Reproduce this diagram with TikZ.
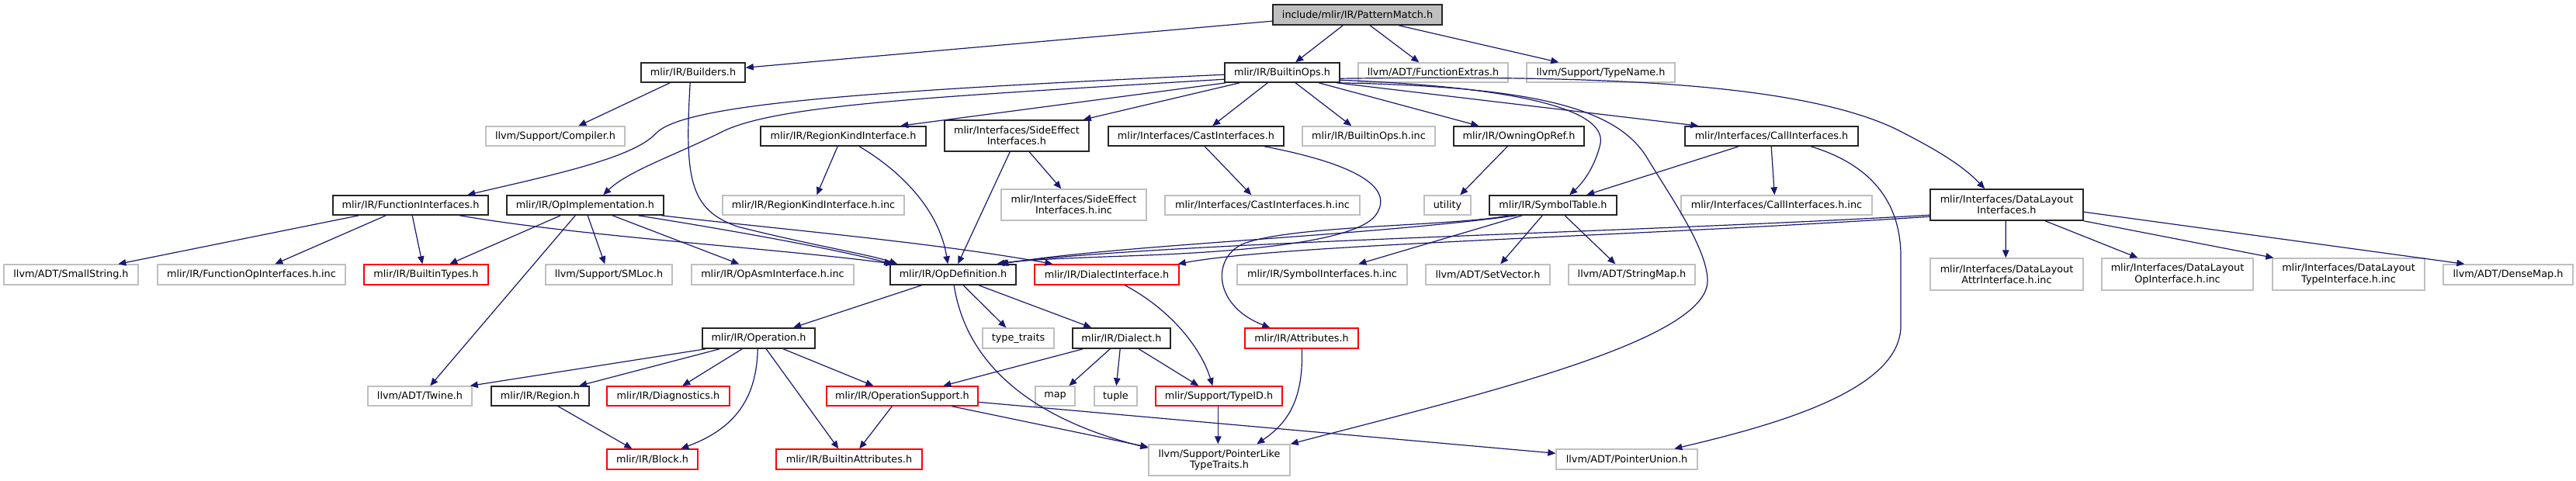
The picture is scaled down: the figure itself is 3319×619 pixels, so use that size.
\documentclass[tikz,border=0pt]{standalone}
\usepackage{fontspec}
\setmainfont{DejaVu Sans}
\usetikzlibrary{arrows.meta}
\definecolor{ecol}{HTML}{191970}
\definecolor{gcol}{HTML}{BFBFBF}
\definecolor{rcol}{HTML}{FF0000}
\definecolor{rootfill}{HTML}{BFBFBF}
\newcommand\fz{\fontsize{12.8}{14.3}\selectfont}
\newcommand\mkn[7]{\node[#1,minimum width=#5pt,minimum height=#6pt] (#2) at (#3,#4) {#7};}
\begin{document}
\begin{tikzpicture}[x=1pt,y=-1pt,
  nb/.style={draw=black!85, line width=1.6pt, fill=white, inner sep=0pt, font=\fz, align=center},
  ng/.style={nb, draw=gcol, line width=1.4pt},
  nr/.style={nb, draw=rcol, line width=1.4pt},
  nroot/.style={nb, fill=rootfill},
  e/.style={draw=ecol, line width=1.2pt, -{Triangle[length=10pt,width=8.5pt]}}]
\fill[white] (0,0) rectangle (3319,619);
\useasboundingbox (0,0) rectangle (3319,619);
% nodes
\mkn{nroot}{pm}{1749}{19}{218}{26}{include/mlir/IR/PatternMatch.h}
\mkn{nb}{builders}{893}{93.5}{134}{25}{mlir/IR/Builders.h}
\mkn{nb}{builtinops}{1652}{93.5}{148}{25}{mlir/IR/BuiltinOps.h}
\mkn{ng}{fextras}{1846.5}{93.5}{193}{25}{llvm/ADT/FunctionExtras.h}
\mkn{ng}{typename}{2062.5}{93.5}{191}{25}{llvm/Support/TypeName.h}
\mkn{ng}{compiler}{715.5}{175.5}{179}{25}{llvm/Support/Compiler.h}
\mkn{nb}{regionkind}{1086.5}{175.5}{213}{25}{mlir/IR/RegionKindInterface.h}
\mkn{nb}{sideeffect}{1310}{175}{186}{40}{mlir/Interfaces/SideEffect\\Interfaces.h}
\mkn{nb}{cast}{1541}{175.5}{226}{25}{mlir/Interfaces/CastInterfaces.h}
\mkn{ng}{builtinopsinc}{1763.5}{175.5}{171}{25}{mlir/IR/BuiltinOps.h.inc}
\mkn{nb}{owning}{1957}{175.5}{168}{25}{mlir/IR/OwningOpRef.h}
\mkn{nb}{call}{2282.5}{175.5}{223}{25}{mlir/Interfaces/CallInterfaces.h}
\mkn{nb}{funcif}{529}{264.5}{200}{25}{mlir/IR/FunctionInterfaces.h}
\mkn{nb}{opimpl}{754}{264.5}{202}{25}{mlir/IR/OpImplementation.h}
\mkn{ng}{regionkindinc}{1048}{264.5}{234}{25}{mlir/IR/RegionKindInterface.h.inc}
\mkn{ng}{sideeffectinc}{1383.5}{264}{187}{40}{mlir/Interfaces/SideEffect\\Interfaces.h.inc}
\mkn{ng}{castinc}{1626.5}{264.5}{251}{25}{mlir/Interfaces/CastInterfaces.h.inc}
\mkn{ng}{utility}{1865}{264.5}{60}{25}{utility}
\mkn{nb}{symtab}{2001}{264.5}{164}{25}{mlir/IR/SymbolTable.h}
\mkn{ng}{callinc}{2289}{264.5}{246}{25}{mlir/Interfaces/CallInterfaces.h.inc}
\mkn{nb}{dl}{2585.5}{264}{197}{40}{mlir/Interfaces/DataLayout\\Interfaces.h}
\mkn{ng}{smallstring}{91.5}{354}{173}{26}{llvm/ADT/SmallString.h}
\mkn{ng}{funcopinc}{324}{354}{242}{26}{mlir/IR/FunctionOpInterfaces.h.inc}
\mkn{nr}{builtintypes}{549}{354}{160}{26}{mlir/IR/BuiltinTypes.h}
\mkn{ng}{smloc}{784.5}{354}{163}{26}{llvm/Support/SMLoc.h}
\mkn{ng}{opasminc}{995.5}{354}{209}{26}{mlir/IR/OpAsmInterface.h.inc}
\mkn{nb}{opdef}{1228}{354}{162}{26}{mlir/IR/OpDefinition.h}
\mkn{nr}{dialectif}{1426}{354}{186}{26}{mlir/IR/DialectInterface.h}
\mkn{ng}{symifinc}{1703.5}{354}{219}{26}{mlir/IR/SymbolInterfaces.h.inc}
\mkn{ng}{setvector}{1917}{354}{160}{26}{llvm/ADT/SetVector.h}
\mkn{ng}{stringmap}{2102.5}{354}{163}{26}{llvm/ADT/StringMap.h}
\mkn{ng}{dlattr}{2585.5}{353.5}{197}{41}{mlir/Interfaces/DataLayout\\AttrInterface.h.inc}
\mkn{ng}{dlop}{2805.5}{353.5}{195}{41}{mlir/Interfaces/DataLayout\\OpInterface.h.inc}
\mkn{ng}{dltype}{3026}{353.5}{196}{41}{mlir/Interfaces/DataLayout\\TypeInterface.h.inc}
\mkn{ng}{densemap}{3231.5}{354}{167}{26}{llvm/ADT/DenseMap.h}
\mkn{nb}{operation}{977.5}{436}{145}{26}{mlir/IR/Operation.h}
\mkn{ng}{typetraits}{1312}{436}{92}{26}{type\_traits}
\mkn{nb}{dialect}{1445}{436}{126}{26}{mlir/IR/Dialect.h}
\mkn{nr}{attributes}{1677}{436}{146}{26}{mlir/IR/Attributes.h}
\mkn{ng}{twine}{541}{510.5}{134}{25}{llvm/ADT/Twine.h}
\mkn{nb}{region}{696}{510.5}{126}{25}{mlir/IR/Region.h}
\mkn{nr}{diagnostics}{861}{510.5}{158}{25}{mlir/IR/Diagnostics.h}
\mkn{nr}{opsupport}{1162.5}{510.5}{195}{25}{mlir/IR/OperationSupport.h}
\mkn{ng}{map}{1359.5}{510.5}{51}{25}{map}
\mkn{ng}{tuple}{1437.5}{510.5}{55}{25}{tuple}
\mkn{nr}{typeid}{1570.5}{510.5}{163}{25}{mlir/Support/TypeID.h}
\mkn{nr}{block}{840.5}{592}{117}{26}{mlir/IR/Block.h}
\mkn{nr}{builtinattrs}{1094}{592}{188}{26}{mlir/IR/BuiltinAttributes.h}
\mkn{ng}{ptrlike}{1571}{593}{182}{40}{llvm/Support/PointerLike\\TypeTraits.h}
\mkn{ng}{ptrunion}{2096}{592}{182}{26}{llvm/ADT/PointerUnion.h}
% edges: PatternMatch
\draw[e] ([yshift=-22pt]pm.north west) -- ([yshift=-7pt]builders.north east);
\draw[e] ([xshift=91pt]pm.south west) -- ([xshift=92pt]builtinops.north west);
\draw[e] ([xshift=126pt]pm.south west) -- ([xshift=79pt]fextras.north west);
\draw[e] ([xshift=163pt]pm.south west) -- ([xshift=42pt]typename.north west);
% Builders
\draw[e] ([xshift=38pt]builders.south west) -- ([xshift=120pt]compiler.north west);
\draw[e] ([xshift=64pt]builders.south west) .. controls (882,230) and (888,270) .. (950,292) .. controls (1040,315) and (1120,328) .. ([xshift=10pt]opdef.north west);
% BuiltinOps
\draw[e] ([yshift=-16pt]builtinops.north west) .. controls (1100,118) and (880,135) .. (845,172) .. controls (815,205) and (700,228) .. ([xshift=174pt]funcif.north west);
\draw[e] ([yshift=-22pt]builtinops.north west) .. controls (1200,125) and (1000,135) .. (930,170) .. controls (870,200) and (810,220) .. ([xshift=125pt]opimpl.north west);
\draw[e] ([xshift=2pt]builtinops.south west) -- ([xshift=181pt]regionkind.north west);
\draw[e] ([xshift=20pt]builtinops.south west) -- ([xshift=-8pt]sideeffect.north east);
\draw[e] ([xshift=56pt]builtinops.south west) -- ([xshift=135pt]cast.north west);
\draw[e] ([xshift=92pt]builtinops.south west) -- ([xshift=64pt]builtinopsinc.north west);
\draw[e] ([xshift=122pt]builtinops.south west) -- ([xshift=33pt]owning.north west);
\draw[e] ([xshift=145pt]builtinops.south west) -- ([xshift=18pt]call.north west);
\draw[e] ([yshift=-23pt]builtinops.north east) .. controls (1950,112) and (2070,140) .. (2062,185) .. controls (2055,215) and (2040,235) .. ([xshift=104pt]symtab.north west);
\draw[e] (builtinops.south east) .. controls (1980,112) and (2080,140) .. (2120,200) .. controls (2150,250) and (2200,320) .. (2200,362) .. controls (2200,440) and (1900,510) .. (ptrlike.north east);
\draw[e] ([yshift=-21pt]builtinops.north east) .. controls (2000,98) and (2300,100) .. (2440,165) .. controls (2500,195) and (2530,215) .. ([xshift=71pt]dl.north west);
% CallInterfaces
\draw[e] ([xshift=70pt]call.south west) -- ([xshift=126pt]symtab.north west);
\draw[e] ([xshift=112pt]call.south west) -- ([xshift=121pt]callinc.north west);
\draw[e] ([xshift=163pt]call.south west) .. controls (2420,215) and (2449,270) .. (2449,330) -- (2449,420) .. controls (2449,500) and (2300,545) .. ([xshift=153pt]ptrunion.north west);
% OwningOpRef
\draw[e] ([xshift=70pt]owning.south west) -- ([xshift=47pt]utility.north west);
% RegionKindInterface
\draw[e] ([xshift=100pt]regionkind.south west) -- ([xshift=122pt]regionkindinc.north west);
\draw[e] ([xshift=128pt]regionkind.south west) .. controls (1160,220) and (1210,270) .. ([xshift=75pt]opdef.north west);
% SideEffect
\draw[e] ([xshift=110pt]sideeffect.south west) -- ([xshift=78pt]sideeffectinc.north west);
\draw[e] ([xshift=85pt]sideeffect.south west) -- ([xshift=88pt]opdef.north west);
% CastInterfaces
\draw[e] ([xshift=125pt]cast.south west) -- ([xshift=112pt]castinc.north west);
\draw[e] ([xshift=202pt]cast.south west) .. controls (1740,210) and (1800,240) .. (1772,278) .. controls (1745,312) and (1600,325) .. (1450,330) .. controls (1370,333) and (1320,335) .. ([xshift=141pt]opdef.north west);
% SymbolTable
\draw[e] ([xshift=36pt]symtab.south west) .. controls (1750,305) and (1450,315) .. ([xshift=143pt]opdef.north west);
\draw[e] ([xshift=26pt]symtab.south west) .. controls (1870,292) and (1660,290) .. (1600,315) .. controls (1560,335) and (1565,395) .. ([xshift=33pt]attributes.north west);
\draw[e] ([xshift=43pt]symtab.south west) -- ([xshift=157pt]symifinc.north west);
\draw[e] ([xshift=69pt]symtab.south west) -- ([xshift=97pt]setvector.north west);
\draw[e] ([xshift=98pt]symtab.south west) -- ([xshift=61pt]stringmap.north west);
% DataLayout
\draw[e] ([yshift=-34pt]dl.north west) .. controls (2100,300) and (1500,312) .. ([xshift=138pt]opdef.north west);
\draw[e] ([yshift=-36pt]dl.north west) .. controls (2100,305) and (1650,315) .. ([xshift=-2pt]dialectif.north east);
\draw[e] ([xshift=98pt]dl.south west) -- ([xshift=98pt]dlattr.north west);
\draw[e] ([xshift=149pt]dl.south west) -- ([xshift=47pt]dlop.north west);
\draw[e] (dl.south east) -- ([xshift=2pt]dltype.north west);
\draw[e] ([yshift=-30pt]dl.north east) -- ([xshift=28pt]densemap.north west);
% FunctionInterfaces
\draw[e] ([xshift=34pt]funcif.south west) -- ([xshift=148pt]smallstring.north west);
\draw[e] ([xshift=69pt]funcif.south west) -- ([xshift=152pt]funcopinc.north west);
\draw[e] ([xshift=103pt]funcif.south west) -- ([xshift=76pt]builtintypes.north west);
\draw[e] ([xshift=164pt]funcif.south west) .. controls (750,305) and (1000,320) .. ([xshift=5pt]opdef.north west);
% OpImplementation
\draw[e] ([xshift=70pt]opimpl.south west) -- ([xshift=111pt]builtintypes.north west);
\draw[e] ([xshift=89pt]opimpl.south west) -- ([xshift=81pt]twine.north west);
\draw[e] ([xshift=105pt]opimpl.south west) -- ([xshift=77pt]smloc.north west);
\draw[e] ([xshift=137pt]opimpl.south west) -- ([xshift=62pt]opasminc.north west);
\draw[e] ([xshift=170pt]opimpl.south west) .. controls (950,298) and (1080,322) .. ([xshift=3pt]opdef.north west);
\draw[e] ([xshift=200pt]opimpl.south west) .. controls (1000,295) and (1200,312) .. ([xshift=24pt]dialectif.north west);
% OpDefinition
\draw[e] ([xshift=41pt]opdef.south west) -- ([xshift=118pt]operation.north west);
\draw[e] ([xshift=95pt]opdef.south west) -- ([xshift=31pt]typetraits.north west);
\draw[e] ([xshift=115pt]opdef.south west) -- ([xshift=25pt]dialect.north west);
\draw[e] ([xshift=83pt]opdef.south west) .. controls (1245,470) and (1330,540) .. ([yshift=-5pt]ptrlike.north west);
% Operation
\draw[e] ([xshift=5pt]operation.south west) -- ([xshift=-3pt]twine.north east);
\draw[e] ([xshift=23pt]operation.south west) -- ([xshift=114pt]region.north west);
\draw[e] ([xshift=52pt]operation.south west) -- ([xshift=98pt]diagnostics.north west);
\draw[e] ([xshift=72pt]operation.south west) .. controls (975,520) and (940,555) .. ([xshift=96pt]block.north west);
\draw[e] ([xshift=83pt]operation.south west) -- ([xshift=81pt]builtinattrs.north west);
\draw[e] ([xshift=105pt]operation.south west) -- ([xshift=61pt]opsupport.north west);
% Region
\draw[e] ([xshift=87pt]region.south west) -- ([xshift=33pt]block.north west);
% Dialect
\draw[e] ([xshift=14pt]dialect.south west) -- ([xshift=151pt]opsupport.north west);
\draw[e] ([xshift=49pt]dialect.south west) -- ([xshift=44pt]map.north west);
\draw[e] ([xshift=62pt]dialect.south west) -- ([xshift=29pt]tuple.north west);
\draw[e] ([xshift=86pt]dialect.south west) -- ([xshift=56pt]typeid.north west);
% DialectInterface, Attributes, TypeID
\draw[e] ([xshift=117pt]dialectif.south west) .. controls (1510,400) and (1548,450) .. ([xshift=74pt]typeid.north west);
\draw[e] ([xshift=74pt]attributes.south west) .. controls (1680,520) and (1655,548) .. ([xshift=140pt]ptrlike.north west);
\draw[e] ([xshift=81pt]typeid.south west) -- ([xshift=90pt]ptrlike.north west);
% OperationSupport
\draw[e] ([xshift=85pt]opsupport.south west) -- ([xshift=108pt]builtinattrs.north west);
\draw[e] ([xshift=162pt]opsupport.south west) -- ([yshift=-4pt]ptrlike.north west);
\draw[e] ([yshift=-21pt]opsupport.north east) -- ([yshift=-6pt]ptrunion.north west);
\end{tikzpicture}
\end{document}
